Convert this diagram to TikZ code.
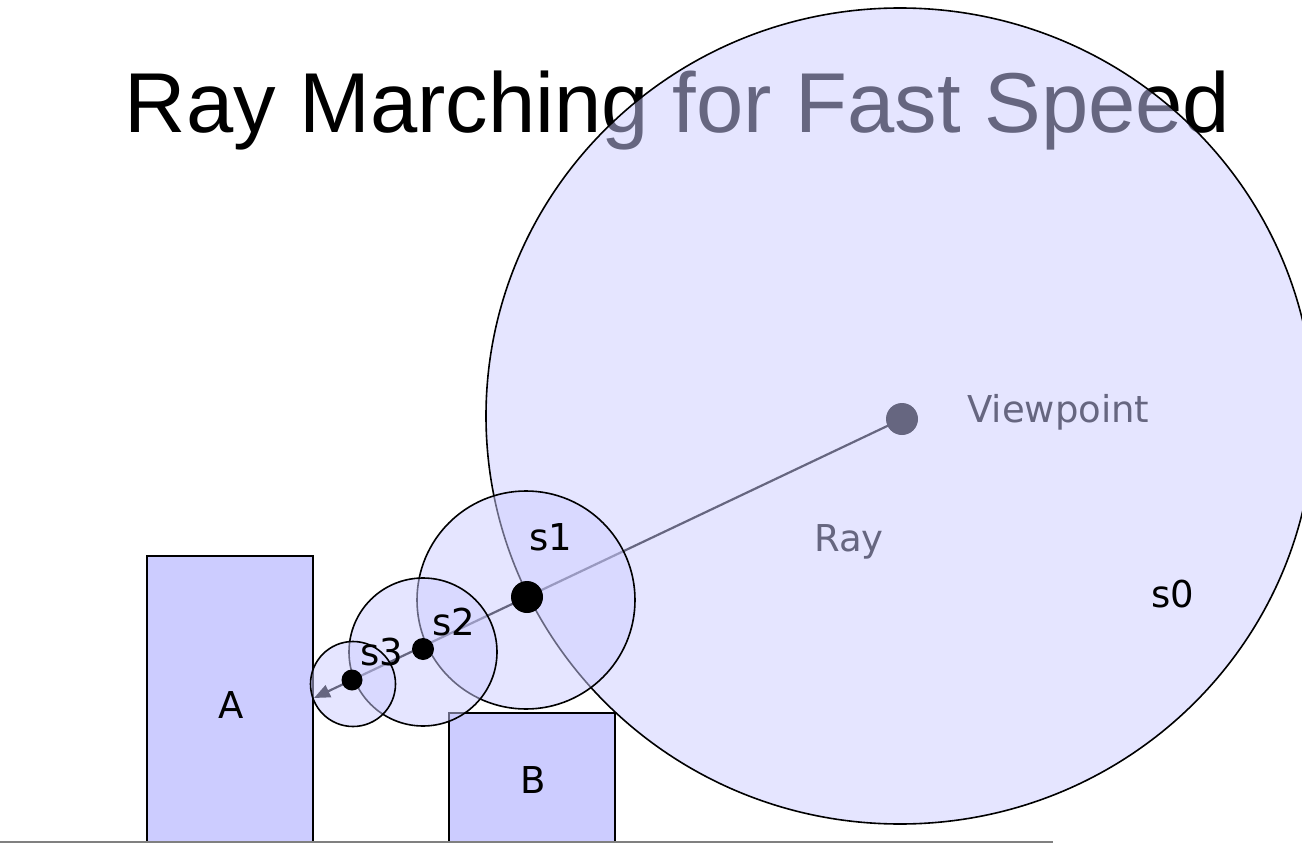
\documentclass[tikz,border=0pt]{standalone}
\usepackage{fontspec}
\setmainfont{Liberation Sans}
\newfontfamily\lblfont{DejaVu Sans}
\usetikzlibrary{shapes.geometric,arrows.meta}
\definecolor{boxfill}{HTML}{CCCCFF}
\definecolor{groundgray}{HTML}{808080}
\begin{document}
\begin{tikzpicture}[x=1pt,y=-1pt,
  box/.style={draw=black, line width=1.5pt, fill=boxfill, inner sep=0pt},
  sphere/.style={circle, draw=black, line width=1.6pt, fill=boxfill, fill opacity=0.5, inner sep=0pt},
  blob/.style={circle, fill=black, inner sep=0pt},
  lbl/.style={font={\lblfont\fontsize{37}{40}\selectfont}, inner sep=0pt, text=black},
  rayline/.style={draw=black, line width=2.2pt, -{Triangle[length=16pt,width=13pt]}},
  ground/.style={draw=groundgray, line width=2pt}]
\useasboundingbox (0,0) rectangle (1302,843);
\clip (0,0) rectangle (1302,843);
% title
\node[anchor=base, font={\fontsize{85}{100}\selectfont}, inner sep=0pt] (title) at (677.5,132) {Ray Marching for Fast Speed};
% boxes
\node[box, minimum width=166pt, minimum height=290pt] (A) at (230,701) {};
\node[box, minimum width=166pt, minimum height=133pt] (B) at (532,779.5) {};
\node[lbl] (Alabel) at (231,705) {A};
\node[lbl] (Blabel) at (533,780) {B};
% ground
\coordinate (g0) at (0,842);
\coordinate (g1) at (1053,842);
\draw[ground] (g0) -- (g1);
% ray and viewpoint (under the spheres)
\node[blob, minimum size=32pt] (vp) at (902,419) {};
\coordinate (tip) at (314,698);
\draw[rayline] (vp.center) -- (tip);
\node[lbl, anchor=base west] (vplabel) at (967,422) {Viewpoint};
\node[lbl] (raylabel) at (849,542) {Ray};
% spheres
\node[sphere, ellipse, minimum width=828pt, minimum height=816pt] (s0) at (900,416) {};
\node[sphere, minimum size=218pt] (s1) at (526,600) {};
\node[sphere, minimum size=148pt] (s2) at (423,652) {};
\node[sphere, minimum size=85pt] (s3) at (353,684) {};
% march points
\node[blob, minimum size=32pt] (d1) at (527,597) {};
\node[blob, minimum size=22pt] (d2) at (423,649) {};
\node[blob, minimum size=21pt] (d3) at (352,680) {};
% labels
\node[lbl] (s0label) at (1173,594) {s0};
\node[lbl] (s1label) at (551,537) {s1};
\node[lbl] (s2label) at (454,622) {s2};
\node[lbl] (s3label) at (382,652) {s3};
\end{tikzpicture}
\end{document}
